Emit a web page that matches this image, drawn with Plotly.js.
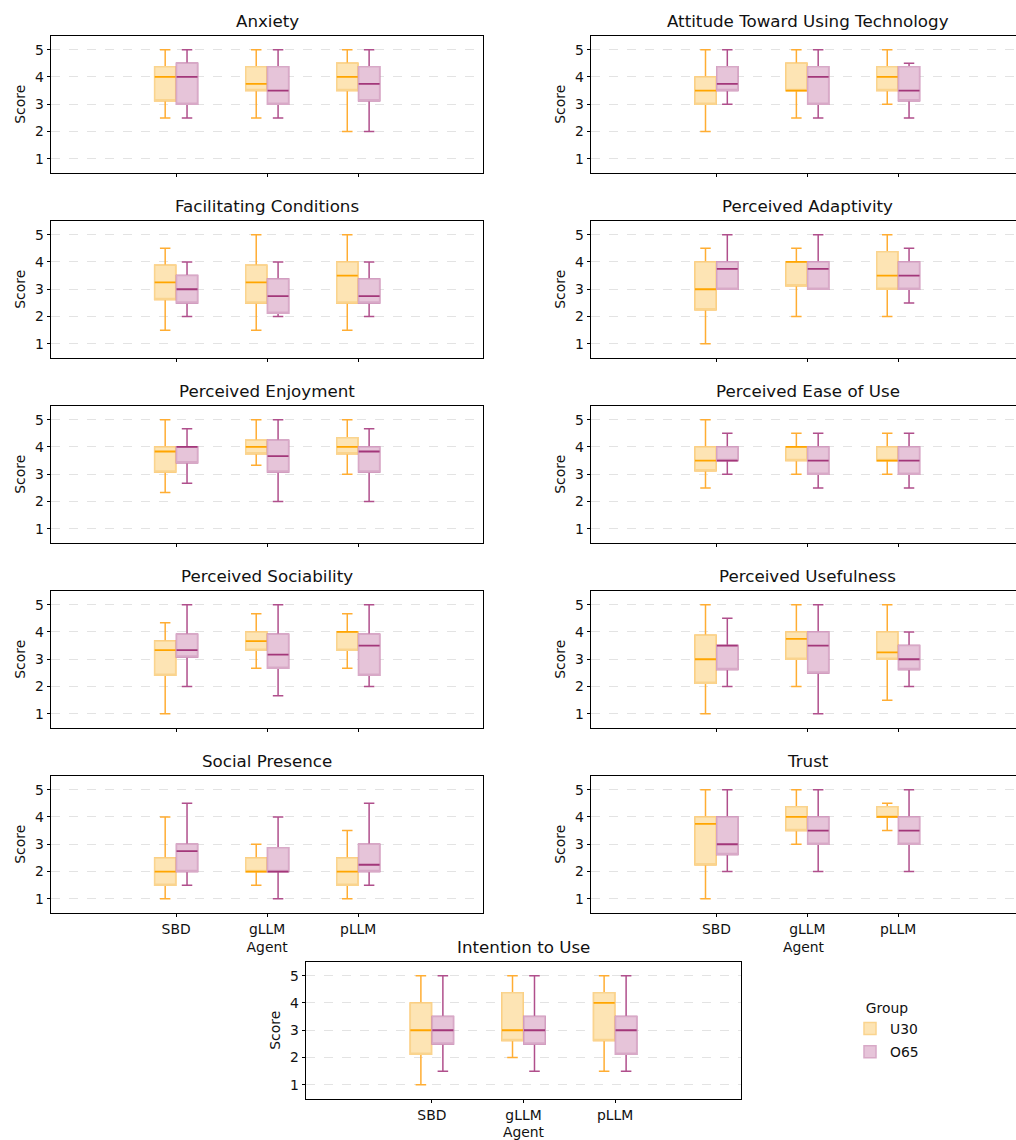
<!DOCTYPE html>
<html>
<head>
<meta charset="utf-8">
<script src="https://cdn.plot.ly/plotly-3.0.1.min.js"></script>
<style>html,body{margin:0;padding:0;background:#fff;}#chart{width:1016px;height:1140px;}</style>
</head>
<body>
<div id="chart"></div>
<script>
// ---------- DATA ----------
const agents = ['SBD', 'gLLM', 'pLLM'];
const groups = ['U30', 'O65'];
const constructs = ['Anxiety', 'Attitude Toward Using Technology', 'Facilitating Conditions',
  'Perceived Adaptivity', 'Perceived Enjoyment', 'Perceived Ease of Use',
  'Perceived Sociability', 'Perceived Usefulness', 'Social Presence', 'Trust', 'Intention to Use'];

// each row: one construct, values per agent [SBD, gLLM, pLLM]
const U30_lower = [[2.5,2.5,2],[2,2.5,3],[1.5,1.5,1.5],[1,2,2],[2.333,3.333,3],[2.5,3,3],[1,2.667,2.667],[1,2,1.5],[1,1.5,1],[1,3,3.5],[1,2,1.5]];
const U30_q1    = [[3.125,3.5,3.5],[3,3.5,3.5],[2.625,2.5,2.5],[2.25,3.125,3],[3.083,3.75,3.75],[3.125,3.5,3.5],[2.417,3.333,3.333],[2.125,3,3],[1.5,2,1.5],[2.25,3.5,4],[2.125,2.625,2.625]];
const U30_med   = [[4,3.75,4],[3.5,3.5,4],[3.25,3.25,3.5],[3,4,3.5],[3.833,4,4],[3.5,4,3.5],[3.333,3.667,4],[3,3.75,3.25],[2,2,2],[3.75,4,4],[3,3,4]];
const U30_q3    = [[4.375,4.375,4.5],[4,4.5,4.375],[3.875,3.875,4],[4,4,4.375],[4,4.25,4.333],[4,4,4],[3.667,4,4],[3.875,4,4],[2.5,2.5,2.5],[4,4.375,4.375],[4,4.375,4.375]];
const U30_upper = [[5,5,5],[5,5,5],[4.5,5,5],[4.5,4.5,5],[5,5,5],[5,4.5,4.5],[4.333,4.667,4.667],[5,5,5],[4,3,3.5],[5,5,4.5],[5,5,5]];

const O65_lower = [[2.5,2.5,2],[3,2.5,2.5],[2,2,2],[3,3,2.5],[2.667,2,2],[3,2.5,2.5],[2,1.667,2],[2,1,2],[1.5,1,1.5],[2,2,2],[1.5,1.5,1.5]];
const O65_q1    = [[3,3,3.125],[3.5,3,3.125],[2.5,2.125,2.5],[3,3,3],[3.417,3.083,3.083],[3.5,3,3],[3.083,2.667,2.417],[2.625,2.5,2.625],[2,2,2],[2.625,3,3],[2.5,2.5,2.125]];
const O65_med   = [[4,3.5,3.75],[3.75,4,3.5],[3,2.75,2.75],[3.75,3.75,3.5],[4,3.667,3.833],[3.5,3.5,3.5],[3.333,3.167,3.5],[3.5,3.5,3],[2.75,2,2.25],[3,3.5,3.5],[3,3,3]];
const O65_q3    = [[4.5,4.375,4.375],[4.375,4.375,4.375],[3.5,3.375,3.375],[4,4,4],[4,4.25,4],[4,4,4],[3.917,3.917,3.917],[3.5,4,3.5],[3,2.875,3],[4,4,4],[3.5,3.5,3.5]];
const O65_upper = [[5,5,5],[5,5,4.5],[4,4,4],[5,5,4.5],[4.667,5,4.667],[4.5,4.5,4.5],[5,5,5],[4.5,5,4],[4.5,4,4.5],[5,5,5],[5,5,5]];

const yTicks = [1, 2, 3, 4, 5];

// ---------- STYLE ----------
const W = 1016, H = 1140;
const FONT = 'DejaVu Sans';
const style = {
  U30: {whisker: '#FFAD33', median: '#FFA500', fill: '#FDE4B4', border: '#FAD48E'},
  O65: {whisker: '#B04F8C', median: '#A3377A', fill: '#E6C4D9', border: '#D8A9C7'}
};
const stats = {
  U30: {lower: U30_lower, q1: U30_q1, med: U30_med, q3: U30_q3, upper: U30_upper},
  O65: {lower: O65_lower, q1: O65_q1, med: O65_med, q3: O65_q3, upper: O65_upper}
};

function px2x(p) { return p / W; }
function px2y(p) { return 1 - p / H; }

const traces = [];
const layout = {
  width: W, height: H,
  margin: {l: 0, r: 0, t: 0, b: 0, pad: 0},
  paper_bgcolor: '#ffffff', plot_bgcolor: '#ffffff',
  font: {family: FONT, size: 13.9, color: '#111'},
  boxmode: 'group', boxgap: 0.52, boxgroupgap: 0.04,
  showlegend: true,
  legend: {
    x: px2x(850), y: px2y(995), xanchor: 'left', yanchor: 'top',
    title: {text: 'Group', side: 'top center', font: {family: FONT, size: 13.9, color: '#111'}},
    font: {family: FONT, size: 13.9, color: '#111'},
    bgcolor: 'rgba(0,0,0,0)', tracegroupgap: 2, itemwidth: 30
  },
  annotations: []
};

constructs.forEach(function (name, i) {
  let left, right, top, range, mirrorY = true, showLabels = false;
  if (i < 10) {
    const row = Math.floor(i / 2), col = i % 2;
    top = 36 + 185 * row;
    if (col === 0) { left = 51; right = 483.3; range = [-1.374, 3.374]; }
    else { left = 591; right = 1016; range = [-1.38, 3.297]; mirrorY = false; }
    showLabels = (row === 4);
  } else {
    top = 962; left = 306; right = 741; range = [-1.374, 3.374]; showLabels = true;
  }
  const bottom = top + 136.5;
  const n = i + 1;
  const xa = 'xaxis' + (n === 1 ? '' : n), ya = 'yaxis' + (n === 1 ? '' : n);
  const xr = 'x' + (n === 1 ? '' : n), yr = 'y' + (n === 1 ? '' : n);

  layout[xa] = {
    domain: [px2x(left), px2x(right)], anchor: yr,
    type: 'category', categoryorder: 'array', categoryarray: agents,
    range: range, showgrid: false, zeroline: false,
    showline: true, linecolor: '#000', linewidth: 1, mirror: true,
    ticks: 'outside', ticklen: 3.5, tickwidth: 1, tickcolor: '#000',
    showticklabels: showLabels,
    tickfont: {family: FONT, size: 13.9, color: '#111'},
    title: showLabels ? {text: 'Agent', font: {family: FONT, size: 13.9, color: '#111'}, standoff: 6} : {text: ''},
    fixedrange: true
  };
  layout[ya] = {
    domain: [px2y(bottom), px2y(top)], anchor: xr,
    range: [0.5, 5.5], tickvals: yTicks, ticktext: yTicks.map(String),
    showgrid: true, gridcolor: '#DCDCDC', griddash: 'dash', gridwidth: 0.8, zeroline: false,
    showline: true, linecolor: '#000', linewidth: 1, mirror: mirrorY,
    ticks: 'outside', ticklen: 3.5, tickwidth: 1, tickcolor: '#000',
    tickfont: {family: FONT, size: 13.9, color: '#111'},
    title: {text: 'Score', font: {family: FONT, size: 13.9, color: '#111'}, standoff: 6},
    fixedrange: true
  };
  const titleRight = (i % 2 === 1 && i < 10) ? 1024 : right;
  layout.annotations.push({
    text: name, xref: 'paper', yref: 'paper',
    x: px2x((left + titleRight) / 2), y: px2y(top), xanchor: 'center', yanchor: 'bottom',
    yshift: 3, showarrow: false, font: {family: FONT, size: 16.7, color: '#111'}
  });

  groups.forEach(function (g) {
    const s = stats[g], c = style[g];
    // layer A: whiskers (solid)
    traces.push({
      type: 'box', name: g, x: agents, xaxis: xr, yaxis: yr,
      q1: s.q1[i], median: s.med[i], q3: s.q3[i], lowerfence: s.lower[i], upperfence: s.upper[i],
      offsetgroup: g, legendgroup: g, showlegend: false, boxpoints: false,
      line: {color: c.whisker, width: 1.5}, fillcolor: 'rgba(0,0,0,0)', whiskerwidth: 0.5,
      hoverinfo: 'skip'
    });
    // layer B: box body (light fill + light edge)
    traces.push({
      type: 'box', name: g, x: agents, xaxis: xr, yaxis: yr,
      q1: s.q1[i], median: s.q1[i], q3: s.q3[i], lowerfence: s.q1[i], upperfence: s.q3[i],
      offsetgroup: g, legendgroup: g, showlegend: i === 0, boxpoints: false,
      line: {color: c.border, width: 1.5}, fillcolor: c.fill, whiskerwidth: 0,
      hoverinfo: 'skip'
    });
    // layer C: median line (solid)
    traces.push({
      type: 'box', name: g, x: agents, xaxis: xr, yaxis: yr,
      q1: s.med[i], median: s.med[i], q3: s.med[i], lowerfence: s.med[i], upperfence: s.med[i],
      offsetgroup: g, legendgroup: g, showlegend: false, boxpoints: false,
      line: {color: c.median, width: 1.8}, fillcolor: 'rgba(0,0,0,0)', whiskerwidth: 0,
      hoverinfo: 'skip'
    });
  });
});

Plotly.newPlot('chart', traces, layout, {displayModeBar: false, staticPlot: true});
</script>
</body>
</html>
